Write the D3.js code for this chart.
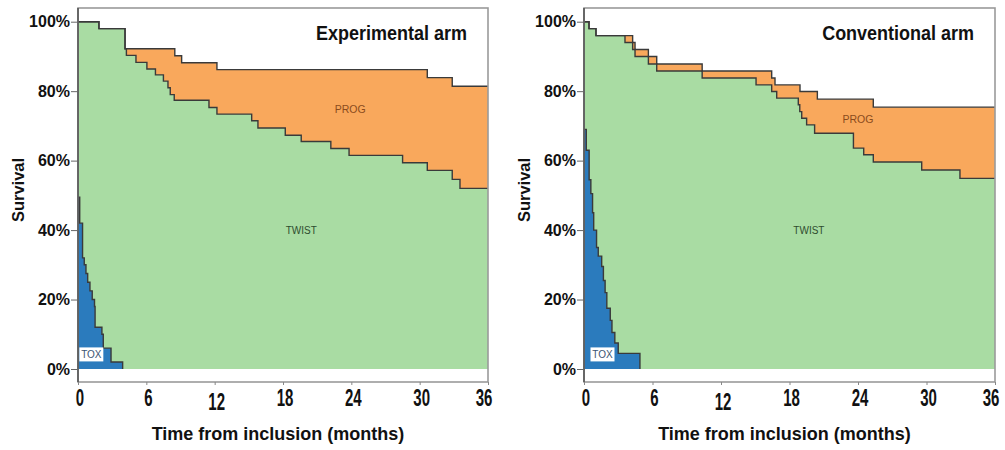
<!DOCTYPE html>
<html>
<head>
<meta charset="utf-8">
<style>
  body { margin: 0; background: #fff; }
  svg text { font-family: "Liberation Sans", Arial, sans-serif; }
</style>
</head>
<body>
<svg width="1005" height="450"></svg>
<script src="https://cdn.jsdelivr.net/npm/d3@7"></script>
<script>

// axis ticks
var monthTicks = [0, 6, 12, 18, 24, 30, 36];
var pctTicks = [0, 20, 40, 60, 80, 100];

// Experimental arm : [month, survival %]
var expOuter = [[0,100],[1.84,98],[4.13,92.2],[8.5,90.2],[9.1,88.2],[12.2,86.2],[30.67,83.9],[32.86,81.4]];
var expTwist = [[0,100],[1.84,98],[4.13,92.2],[4.25,90.3],[5.09,88.3],[6.05,86.4],[6.8,84.7],[7.5,82.9],
  [7.9,81.0],[8.1,79.0],[8.45,77.4],[11.5,75.3],[12.2,73.4],[15.25,71.5],[15.8,69.4],[18.2,67.3],
  [19.6,65.5],[22.2,63.5],[23.8,61.5],[28.5,59.4],[30.67,57.2],[32.86,54.6],[33.54,52.0]];
var expTox = [[0,49.5],[0.15,42],[0.4,32],[0.55,30],[0.7,27.5],[0.85,25],[1.05,22.5],[1.25,20],
  [1.45,18],[1.5,12],[2.1,10],[2.22,6],[2.9,2],[3.92,0]];

// Conventional arm
var convOuter = [[0,100],[0.44,98],[1.05,96],[4.26,94],[4.47,92],[5.64,90],[6.37,87.8],[10.35,85.8],
  [16.44,83.8],[16.73,81.8],[18.92,79.9],[20.44,77.7],[25.34,75.4]];
var convTwist = [[0,100],[0.44,98],[1.05,96],[3.59,94],[4.26,92],[4.47,90],[5.64,87.8],[6.37,85.8],
  [10.35,83.8],[15.07,81.8],[16.44,79.9],[16.88,78],[18.77,76.1],[18.9,74.1],[19.07,72.2],[19.5,70.3],
  [20.2,67.9],[23.6,63.6],[24.5,61.7],[25.34,59.6],[29.58,57.3],[32.93,54.9]];
var convTox = [[0,69],[0.2,63],[0.45,54.5],[0.6,50.5],[0.75,45],[0.85,40],[1.1,35],[1.25,32.5],
  [1.55,29.5],[1.7,25.5],[1.85,22],[2.0,17.5],[2.3,14],[2.45,10.5],[2.7,7.5],[3.0,4.5],[4.9,0]];

var svg = d3.select("svg");

var panels = [
  { title: "Experimental arm", outer: expOuter, twist: expTwist, tox: expTox,
    x0: 78, x1: 488, prog: [23.9, 74.8], twistAt: [19.6, 40], toxAt: [1.17, 4.2] },
  { title: "Conventional arm", outer: convOuter, twist: convTwist, tox: convTox,
    x0: 584, x1: 995, prog: [24.0, 72], twistAt: [19.7, 40], toxAt: [1.62, 4.2] }
];

var frameTop = 8, frameBottom = 382;
var y = d3.scaleLinear().domain([0, 100]).range([369, 21.7]);

function extend(s) { return s.concat([[36, s[s.length - 1][1]]]); }

panels.forEach(function(p) {
  var x = d3.scaleLinear().domain([0, 36]).range([p.x0, p.x1]);
  var g = svg.append("g");

  var area = d3.area().curve(d3.curveStepAfter)
      .x(function(d) { return x(d[0]); })
      .y0(y(0))
      .y1(function(d) { return y(d[1]); });
  var line = d3.line().curve(d3.curveStepAfter)
      .x(function(d) { return x(d[0]); })
      .y(function(d) { return y(d[1]); });

  g.append("path").datum(extend(p.outer)).attr("d", area).attr("fill", "#f9a85c");
  g.append("path").datum(extend(p.twist)).attr("d", area).attr("fill", "#a9dca3");
  g.append("path").datum(p.tox).attr("d", area).attr("fill", "#2b7bbd");

  [extend(p.outer), extend(p.twist), p.tox].forEach(function(s) {
    g.append("path").datum(s).attr("d", line)
      .attr("fill", "none").attr("stroke", "#3a3a3a").attr("stroke-width", 1.4);
  });

  // region labels
  g.append("text").attr("x", x(p.prog[0])).attr("y", y(p.prog[1]))
    .attr("text-anchor", "middle").attr("dy", "0.35em")
    .style("font-size", "10.5px").attr("fill", "#8a4b1c").text("PROG");
  g.append("text").attr("x", x(p.twistAt[0])).attr("y", y(p.twistAt[1]))
    .attr("text-anchor", "middle").attr("dy", "0.35em")
    .style("font-size", "10px").attr("fill", "#2f4d2f").text("TWIST");
  g.append("rect").attr("x", x(p.toxAt[0]) - 12).attr("y", y(p.toxAt[1]) - 7)
    .attr("width", 24).attr("height", 14).attr("fill", "#fff");
  g.append("text").attr("x", x(p.toxAt[0])).attr("y", y(p.toxAt[1]))
    .attr("text-anchor", "middle").attr("dy", "0.35em")
    .style("font-size", "10px").attr("fill", "#3b5572").text("TOX");

  // frame
  g.append("rect").attr("x", p.x0).attr("y", frameTop)
    .attr("width", p.x1 - p.x0).attr("height", frameBottom - frameTop)
    .attr("fill", "none").attr("stroke", "#9a9a9a").attr("stroke-width", 1.6);
  g.append("line").attr("x1", p.x0).attr("x2", p.x0).attr("y1", frameTop).attr("y2", frameBottom)
    .attr("stroke", "#555").attr("stroke-width", 1.6);

  // y axis
  var ya = g.append("g").attr("transform", "translate(" + p.x0 + ",0)")
    .call(d3.axisLeft(y).tickValues(pctTicks).tickSize(7).tickPadding(1)
      .tickFormat(function(d) { return d + "%"; }));
  ya.select(".domain").remove();
  ya.selectAll(".tick line").attr("stroke", "#666");
  ya.selectAll(".tick text").style("font-size", "16px").style("font-weight", "bold")
    .style("font-family", "'Liberation Sans', Arial, sans-serif").attr("fill", "#111");

  // x axis
  var xa = g.append("g").attr("transform", "translate(0," + frameBottom + ")")
    .call(d3.axisBottom(x).tickValues(monthTicks).tickSize(3).tickFormat(""));
  xa.select(".domain").remove();
  xa.selectAll(".tick line").attr("stroke", "#888");

  g.selectAll(".xlab").data(monthTicks).enter().append("text")
    .attr("class", "xlab")
    .attr("transform", function(d) {
      return "translate(" + (x(d) + (d === 36 ? -4 : 2)) + "," + (d === 12 ? 410 : 406) + ") scale(1,1.65)";
    })
    .attr("text-anchor", "middle")
    .style("font-size", "15px").style("font-weight", "bold").attr("fill", "#111")
    .text(function(d) { return d; });

  g.append("text").attr("x", (p.x0 + p.x1) / 2 - 5).attr("y", 440)
    .attr("text-anchor", "middle")
    .style("font-size", "18px").style("font-weight", "bold").attr("fill", "#111")
    .text("Time from inclusion (months)");

  g.append("text")
    .attr("transform", "translate(" + (p.x0 - 54) + ",190) rotate(-90)")
    .attr("text-anchor", "middle")
    .style("font-size", "16.5px").style("font-weight", "bold").attr("fill", "#111")
    .text("Survival");

  g.append("text")
    .attr("transform", "translate(" + (p.x1 - 21) + ",40) scale(1,1.15)")
    .attr("text-anchor", "end")
    .style("font-size", "18px").style("font-weight", "bold").attr("fill", "#111")
    .text(p.title);
});

</script>
</body>
</html>
